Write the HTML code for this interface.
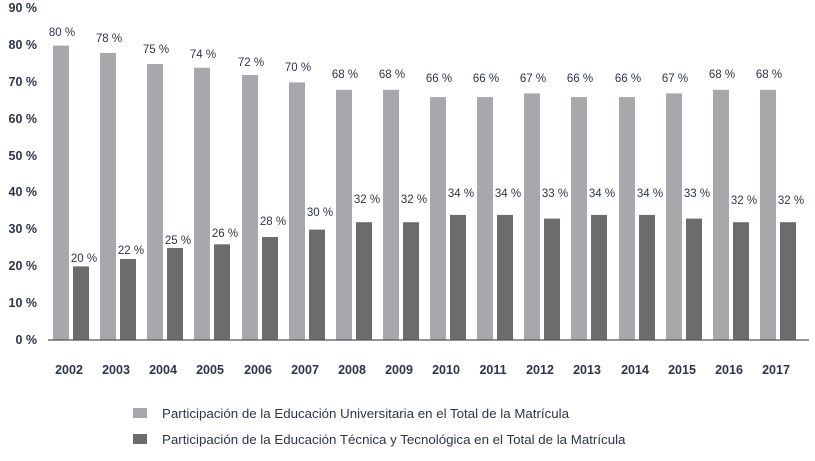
<!DOCTYPE html><html><head><style>body{margin:0;background:#fff}svg{display:block}text{font-family:"Liberation Sans",sans-serif;fill:#2e3548}.y{font-size:12.5px;font-weight:bold;text-anchor:end}.v{font-size:11.5px;text-anchor:middle}.x{font-size:12.5px;font-weight:bold;text-anchor:middle}.l{fill:#a7a8ab}.d{fill:#6b6c6e}</style></head><body>
<svg width="815" height="461" xmlns="http://www.w3.org/2000/svg">
<text class="y" x="37" y="344">0 %</text>
<text class="y" x="37" y="307">10 %</text>
<text class="y" x="37" y="270">20 %</text>
<text class="y" x="37" y="233">30 %</text>
<text class="y" x="37" y="196">40 %</text>
<text class="y" x="37" y="160">50 %</text>
<text class="y" x="37" y="123">60 %</text>
<text class="y" x="37" y="86">70 %</text>
<text class="y" x="37" y="49">80 %</text>
<text class="y" x="37" y="12">90 %</text>

<rect class="l" x="53" y="45.6" width="16" height="294.4"/><rect class="d" x="73" y="266.4" width="16" height="73.6"/>
<text class="v" x="62" y="36">80 %</text><text class="v" x="84" y="262">20 %</text><text class="x" x="69" y="374">2002</text>

<rect class="l" x="100" y="53" width="16" height="287"/><rect class="d" x="120" y="259" width="16" height="81"/>
<text class="v" x="109" y="42">78 %</text><text class="v" x="131" y="254">22 %</text><text class="x" x="116" y="374">2003</text>

<rect class="l" x="147" y="64" width="16" height="276"/><rect class="d" x="167" y="248" width="16" height="92"/>
<text class="v" x="156" y="53">75 %</text><text class="v" x="178" y="244">25 %</text><text class="x" x="163" y="374">2004</text>

<rect class="l" x="194" y="67.7" width="16" height="272.3"/><rect class="d" x="214" y="244.3" width="16" height="95.7"/>
<text class="v" x="203" y="58">74 %</text><text class="v" x="225" y="237">26 %</text><text class="x" x="210" y="374">2005</text>

<rect class="l" x="242" y="75" width="16" height="265"/><rect class="d" x="262" y="237" width="16" height="103"/>
<text class="v" x="251" y="66">72 %</text><text class="v" x="273" y="225">28 %</text><text class="x" x="258" y="374">2006</text>

<rect class="l" x="289" y="82.4" width="16" height="257.6"/><rect class="d" x="309" y="229.6" width="16" height="110.4"/>
<text class="v" x="298" y="71">70 %</text><text class="v" x="320" y="216">30 %</text><text class="x" x="305" y="374">2007</text>

<rect class="l" x="336" y="89.8" width="16" height="250.2"/><rect class="d" x="356" y="222.2" width="16" height="117.8"/>
<text class="v" x="345" y="78">68 %</text><text class="v" x="367" y="203">32 %</text><text class="x" x="352" y="374">2008</text>

<rect class="l" x="383" y="89.8" width="16" height="250.2"/><rect class="d" x="403" y="222.2" width="16" height="117.8"/>
<text class="v" x="392" y="78">68 %</text><text class="v" x="414" y="203">32 %</text><text class="x" x="399" y="374">2009</text>

<rect class="l" x="430" y="97.1" width="16" height="242.9"/><rect class="d" x="450" y="214.9" width="16" height="125.1"/>
<text class="v" x="439" y="82">66 %</text><text class="v" x="461" y="197">34 %</text><text class="x" x="446" y="374">2010</text>

<rect class="l" x="477" y="97.1" width="16" height="242.9"/><rect class="d" x="497" y="214.9" width="16" height="125.1"/>
<text class="v" x="486" y="82">66 %</text><text class="v" x="508" y="197">34 %</text><text class="x" x="493" y="374">2011</text>

<rect class="l" x="524" y="93.4" width="16" height="246.6"/><rect class="d" x="544" y="218.6" width="16" height="121.4"/>
<text class="v" x="533" y="82">67 %</text><text class="v" x="555" y="197">33 %</text><text class="x" x="540" y="374">2012</text>

<rect class="l" x="571" y="97.1" width="16" height="242.9"/><rect class="d" x="591" y="214.9" width="16" height="125.1"/>
<text class="v" x="580" y="82">66 %</text><text class="v" x="602" y="197">34 %</text><text class="x" x="587" y="374">2013</text>

<rect class="l" x="619" y="97.1" width="16" height="242.9"/><rect class="d" x="639" y="214.9" width="16" height="125.1"/>
<text class="v" x="628" y="82">66 %</text><text class="v" x="650" y="197">34 %</text><text class="x" x="635" y="374">2014</text>

<rect class="l" x="666" y="93.4" width="16" height="246.6"/><rect class="d" x="686" y="218.6" width="16" height="121.4"/>
<text class="v" x="675" y="82">67 %</text><text class="v" x="697" y="197">33 %</text><text class="x" x="682" y="374">2015</text>

<rect class="l" x="713" y="89.8" width="16" height="250.2"/><rect class="d" x="733" y="222.2" width="16" height="117.8"/>
<text class="v" x="722" y="78">68 %</text><text class="v" x="744" y="204">32 %</text><text class="x" x="729" y="374">2016</text>

<rect class="l" x="760" y="89.8" width="16" height="250.2"/><rect class="d" x="780" y="222.2" width="16" height="117.8"/>
<text class="v" x="769" y="78">68 %</text><text class="v" x="791" y="204">32 %</text><text class="x" x="776" y="374">2017</text>

<line x1="48" y1="340" x2="809" y2="340" stroke="#555" stroke-width="1.3"/>
<rect x="133" y="408" width="14" height="10" fill="#a7a8ab"/>
<text x="162" y="418" font-size="13.3">Participación de la Educación Universitaria en el Total de la Matrícula</text>
<rect x="133" y="434" width="14" height="10" fill="#6b6c6e"/>
<text x="162" y="444" font-size="13.3">Participación de la Educación Técnica y Tecnológica en el Total de la Matrícula</text>
</svg></body></html>
